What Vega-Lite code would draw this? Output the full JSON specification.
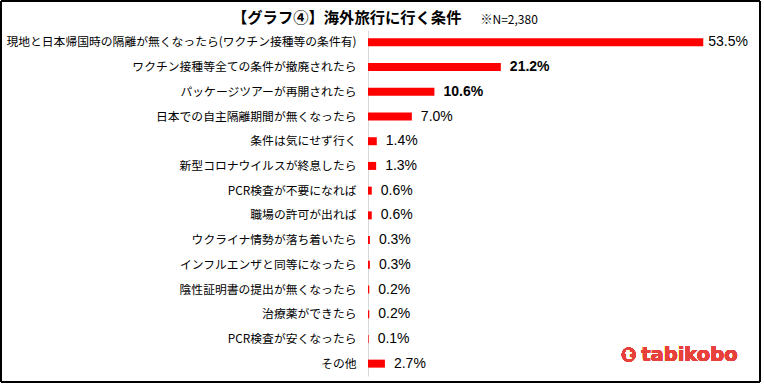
{
  "$schema": "https://vega.github.io/schema/vega-lite/v6.json",
  "width": 376,
  "height": 346,
  "autosize": {"type": "none"},
  "padding": {"left": 368, "top": 30, "right": 20, "bottom": 12},
  "background": "white",
  "config": {"view": {"stroke": null}},
  "title": {
    "text": "【グラフ④】海外旅行に行く条件",
    "orient": "none",
    "anchor": "start",
    "frame": "group",
    "dx": -136,
    "dy": -7,
    "offset": 0,
    "baseline": "alphabetic",
    "font": "Noto Sans CJK JP",
    "fontSize": 15.3,
    "fontWeight": "bold",
    "color": "#000000"
  },
  "data": {
    "values": [
      {"label": "現地と日本帰国時の隔離が無くなったら(ワクチン接種等の条件有)", "value": 53.5},
      {"label": "ワクチン接種等全ての条件が撤廃されたら", "value": 21.2},
      {"label": "パッケージツアーが再開されたら", "value": 10.6},
      {"label": "日本での自主隔離期間が無くなったら", "value": 7.0},
      {"label": "条件は気にせず行く", "value": 1.4},
      {"label": "新型コロナウイルスが終息したら", "value": 1.3},
      {"label": "PCR検査が不要になれば", "value": 0.6},
      {"label": "職場の許可が出れば", "value": 0.6},
      {"label": "ウクライナ情勢が落ち着いたら", "value": 0.3},
      {"label": "インフルエンザと同等になったら", "value": 0.3},
      {"label": "陰性証明書の提出が無くなったら", "value": 0.2},
      {"label": "治療薬ができたら", "value": 0.2},
      {"label": "PCR検査が安くなったら", "value": 0.1},
      {"label": "その他", "value": 2.7}
    ]
  },
  "encoding": {
    "y": {
      "field": "label",
      "type": "nominal",
      "sort": null,
      "scale": {"paddingInner": 0.2, "paddingOuter": 0.1},
      "axis": {
        "title": null,
        "ticks": false,
        "domainColor": "#d9d9d9",
        "domainWidth": 1,
        "labelPadding": 12,
        "labelFont": "Noto Sans CJK JP",
        "labelFontSize": 11.8,
        "labelColor": "#000000",
        "labelLimit": 420
      }
    },
    "x": {
      "field": "value",
      "type": "quantitative",
      "scale": {"domain": [0, 60], "nice": false},
      "axis": {
        "orient": "top",
        "title": "※N=2,380",
        "titleX": 112,
        "titleY": -7,
        "titleAlign": "left",
        "titleBaseline": "alphabetic",
        "titleFont": "Noto Sans CJK JP",
        "titleFontSize": 12,
        "titleFontWeight": "normal",
        "titleColor": "#000000",
        "labels": false,
        "ticks": false,
        "domain": false,
        "grid": false
      }
    }
  },
  "layer": [
    {"mark": {"type": "bar", "color": "#ff0000", "size": 8}},
    {
      "transform": [
        {"filter": "datum.value < 10"},
        {"calculate": "format(datum.value, '.1f') + '%'", "as": "txt"}
      ],
      "mark": {"type": "text", "align": "left", "baseline": "middle", "dx": 9, "font": "Liberation Sans", "fontSize": 14, "color": "#000000"},
      "encoding": {"text": {"field": "txt", "type": "nominal"}}
    },
    {
      "transform": [
        {"filter": "datum.value > 50"},
        {"calculate": "format(datum.value, '.1f') + '%'", "as": "txt"}
      ],
      "mark": {"type": "text", "align": "left", "baseline": "middle", "dx": 5, "font": "Liberation Sans", "fontSize": 14, "color": "#000000"},
      "encoding": {"text": {"field": "txt", "type": "nominal"}}
    },
    {
      "transform": [
        {"filter": "datum.value == 21.2 || datum.value == 10.6"},
        {"calculate": "format(datum.value, '.1f') + '%'", "as": "txt"}
      ],
      "mark": {"type": "text", "align": "left", "baseline": "middle", "dx": 9, "font": "Liberation Sans", "fontSize": 14, "fontWeight": "bold", "color": "#000000"},
      "encoding": {"text": {"field": "txt", "type": "nominal"}}
    },
    {
      "mark": {"type": "point", "shape": "circle", "filled": true, "size": 200, "color": "#e8403a", "opacity": 1, "yOffset": -9},
      "encoding": {"x": {"datum": 41.6}, "y": {"datum": "その他"}}
    },
    {
      "mark": {"type": "text", "text": "t", "align": "center", "baseline": "middle", "font": "DejaVu Sans", "fontSize": 12, "fontWeight": "bold", "color": "#ffffff", "yOffset": -9},
      "encoding": {"x": {"datum": 41.6}, "y": {"datum": "その他"}}
    },
    {
      "mark": {"type": "text", "text": "tabikobo", "align": "left", "baseline": "middle", "font": "DejaVu Sans", "fontSize": 19.5, "fontWeight": "bold", "color": "#e8403a", "yOffset": -9},
      "encoding": {"x": {"datum": 43.6}, "y": {"datum": "その他"}}
    },
    {
      "mark": {"type": "rect", "fill": null, "stroke": "#000000", "strokeWidth": 1},
      "encoding": {"x": {"value": -367}, "x2": {"value": 392}, "y": {"value": -29}, "y2": {"value": 352}}
    }
  ]
}
